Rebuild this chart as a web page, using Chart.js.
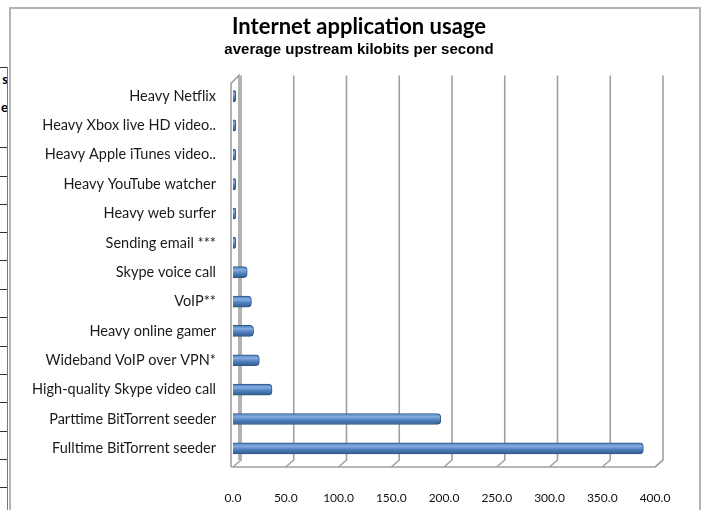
<!DOCTYPE html>
<html>
<head>
<meta charset="utf-8">
<script src="https://cdn.jsdelivr.net/npm/chart.js@4/dist/chart.umd.min.js"></script>
<style>
body{margin:0;width:702px;height:510px;overflow:hidden;background:#fff;position:relative;font-family:Lato,sans-serif}
#frame{position:absolute;left:9px;top:7px;width:688px;height:510px;border:2px solid #b4b4b4;border-bottom:none;background:#fff}
#frame canvas{position:absolute;left:0;top:0}
#cells{position:absolute;left:0;top:67px;width:7px;height:443px;border-right:1px solid #777;overflow:hidden}
.hl{position:absolute;left:0;width:7px;border-top:1px solid #333}
.ct{position:absolute;right:-1px;font:bold 13px Lato,sans-serif;color:#000}
</style>
</head>
<body>
<div id="cells"></div>
<div id="frame"><canvas id="myChart" width="688" height="501"></canvas></div>
<script>
// values (kbps upstream)
var categories = [
    "Heavy Netflix",
    "Heavy Xbox live HD video..",
    "Heavy Apple iTunes video..",
    "Heavy YouTube watcher",
    "Heavy web surfer",
    "Sending email ***",
    "Skype voice call",
    "VoIP**",
    "Heavy online gamer",
    "Wideband VoIP over VPN*",
    "High-quality Skype video call",
    "Parttime BitTorrent seeder",
    "Fulltime BitTorrent seeder"
];
var upstream = [2.5, 2.5, 2.5, 2.5, 2.5, 2.5, 13.5, 17.5, 19.5, 25, 37, 197, 389];
var xTicks = [0, 50, 100, 150, 200, 250, 300, 350, 400];

// spreadsheet cells peeking out on the left
var cells = document.getElementById("cells");
var rows = [0, 80, 109, 137, 165, 193, 222, 250, 279, 307, 335, 364, 392, 420];
rows.forEach(function (r) {
    var d = document.createElement("div");
    d.className = "hl"; d.style.top = r + "px";
    cells.appendChild(d);
});
[["s", 4], ["e", 32]].forEach(function (t) {
    var s = document.createElement("span");
    s.className = "ct"; s.textContent = t[0]; s.style.top = t[1] + "px";
    cells.appendChild(s);
});

// 3d-ish back wall, left wall and floor drawn from the x scale
var wall = {
    id: "wall",
    beforeDatasetsDraw(chart) {
        var ctx = chart.ctx, a = chart.chartArea, x = chart.scales.x;
        var dx = 8, dy = 7;
        var fy = a.bottom + 4, by = fy - dy, top = a.top - 6;
        var lx = a.left - 2;
        ctx.save();
        ctx.lineWidth = 1.6;
        ctx.strokeStyle = "#a0a0a0";
        xTicks.forEach(function (v) {
            var px = x.getPixelForValue(v);
            ctx.beginPath();
            ctx.moveTo(px + dx, top);
            ctx.lineTo(px + dx, by);
            ctx.lineTo(px, fy);
            ctx.stroke();
        });
        // left wall
        ctx.beginPath();
        ctx.moveTo(lx, fy);
        ctx.lineTo(lx, top + dy + 1);
        ctx.lineTo(lx + dx, top);
        ctx.lineTo(lx + dx, by);
        ctx.stroke();
        // floor
        var rx = x.getPixelForValue(400);
        ctx.beginPath();
        ctx.moveTo(lx, fy);
        ctx.lineTo(rx, fy);
        ctx.lineTo(rx + dx, by);
        ctx.stroke();
        ctx.restore();
    }
};

// the title sits a little right of the canvas middle
var titleShift = {
    id: "titleShift",
    afterLayout(chart) {
        chart.boxes.forEach(function (b) {
            if (b instanceof Chart.Title._element) { b.left += 20; b.right += 20; }
        });
    }
};

function barFill(c) {
    var chart = c.chart;
    if (!chart.chartArea) return "#4f81bd";
    var y = chart.scales.y.getPixelForValue(c.dataIndex);
    var g = chart.ctx.createLinearGradient(0, y - 5.5, 0, y + 5.5);
    g.addColorStop(0, "#4a7bbb");
    g.addColorStop(0.3, "#86ace0");
    g.addColorStop(0.6, "#4f81bd");
    g.addColorStop(1, "#335b8f");
    return g;
}

new Chart("myChart", {
    type: "bar",
    data: {
        labels: categories,
        datasets: [{
            data: upstream,
            backgroundColor: barFill,
            borderColor: "#2f5687",
            borderWidth: 1,
            borderSkipped: "start",
            borderRadius: 4,
            barThickness: 11
        }]
    },
    plugins: [wall, titleShift],
    options: {
        indexAxis: "y",
        responsive: false,
        animation: false,
        devicePixelRatio: 1,
        layout: { padding: { left: 12, right: 44, top: 5, bottom: 0 } },
        plugins: {
            legend: { display: false },
            tooltip: { enabled: false },
            title: {
                display: true,
                text: "Internet application usage",
                color: "#000",
                font: { family: "Lato", size: 22, weight: "bold" },
                padding: { top: 0, bottom: 0 }
            },
            subtitle: {
                display: true,
                text: "average upstream kilobits per second",
                color: "#000",
                font: { family: "'Liberation Sans Narrow', 'Liberation Sans'", size: 15, weight: "bold" },
                padding: { top: 0, bottom: 23 }
            }
        },
        scales: {
            x: {
                min: 0, max: 400,
                afterBuildTicks: function (s) { s.ticks = xTicks.map(function (v) { return { value: v }; }); },
                ticks: {
                    padding: 20,
                    color: "#111",
                    font: { family: "Lato", size: 12 },
                    callback: function (v) { return Number(v).toFixed(1); }
                },
                grid: { display: false },
                border: { display: false },
                afterFit: function (s) { s.height = 47; }
            },
            y: {
                ticks: {
                    padding: 9,
                    color: "#1a1a1a",
                    font: { family: "Lato", size: 14.5 },
                    autoSkip: false
                },
                grid: { display: false },
                border: { display: false },
                afterFit: function (s) { s.width = 210; }
            }
        }
    }
});
</script>
</body>
</html>
